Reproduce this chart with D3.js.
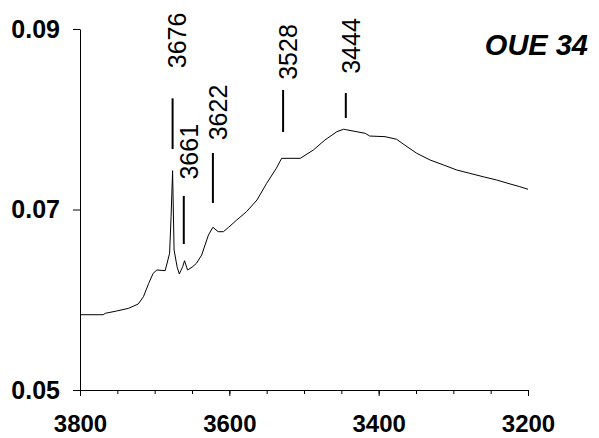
<!DOCTYPE html>
<html>
<head>
<meta charset="utf-8">
<script src="https://cdn.jsdelivr.net/npm/d3@7"></script>
<style>
  html, body { margin: 0; padding: 0; background: #fff; }
  svg { display: block; }
  .axis text { font-family: "Liberation Sans", Arial, sans-serif; font-weight: bold; font-size: 25px; fill: #000; }
  .axis.xlab text { font-size: 24px; }
  .axis path, .axis line { stroke: #000; stroke-width: 1; }
</style>
</head>
<body>
<svg id="chart" width="599" height="438"></svg>
<script>
// IR spectrum, OUE 34: wavenumber (cm-1) vs absorbance
const wavenumber = [
  3800, 3769, 3766, 3751, 3735, 3722, 3715, 3708, 3702, 3697,
  3686, 3684, 3680, 3678, 3676, 3674, 3670, 3667, 3665, 3662.5,
  3660, 3656, 3650, 3644, 3637, 3632.5, 3628, 3622, 3615, 3608,
  3601, 3590, 3577, 3563, 3550, 3537, 3530, 3505, 3487.5, 3472,
  3456, 3447, 3444, 3418, 3412, 3391.5, 3376, 3362, 3349, 3331,
  3313, 3295.5, 3278, 3260, 3242, 3224, 3211, 3200
];
const absorbance = [
  0.05834, 0.05834, 0.05850, 0.05875, 0.05905, 0.05953, 0.06034, 0.06182, 0.06293, 0.06330,
  0.06322, 0.06385, 0.06515, 0.06920, 0.07430, 0.06551, 0.06366, 0.06285, 0.06322, 0.06366,
  0.06433, 0.06330, 0.06360, 0.06404, 0.06496, 0.06607, 0.06717, 0.06803, 0.06754, 0.06754,
  0.06803, 0.06884, 0.06976, 0.07105, 0.07290, 0.07457, 0.07567, 0.07567, 0.07659, 0.07770,
  0.07862, 0.07889, 0.07885, 0.07844, 0.07814, 0.07807, 0.07778, 0.07696, 0.07623, 0.07548,
  0.07493, 0.07438, 0.07401, 0.07363, 0.07327, 0.07283, 0.07253, 0.07224
];

// Band assignments: marker span and label centre, in absorbance units
const bandPositions = [3676, 3661, 3622, 3528, 3444];
const bandLabels    = ["3676", "3661", "3622", "3528", "3444"];
const markerTop     = [0.08232, 0.07150, 0.07626, 0.08324, 0.08291];
const markerBottom  = [0.07670, 0.06618, 0.07072, 0.07859, 0.08014];
const labelCenter   = [0.08873, 0.07640, 0.08075, 0.08745, 0.08812];

const xMajorTicks = [3800, 3600, 3400, 3200];
const xMinorTicks = d3.range(3800, 3199, -50);
const yTicks = [0.05, 0.07, 0.09];
const sampleName = "OUE 34";

const svg = d3.select("#chart");
const margin = { left: 80, right: 71, top: 29, bottom: 48 };
const W = 599, H = 438;

const x = d3.scaleLinear().domain([3800, 3200]).range([margin.left, W - margin.right]);
const y = d3.scaleLinear().domain([0.05, 0.09]).range([H - margin.bottom, margin.top]);

// x axis: minor ticks every 50, labelled major ticks every 200
svg.append("g")
  .attr("class", "axis")
  .attr("transform", `translate(0,${y(0.05)})`)
  .call(d3.axisBottom(x).tickValues(xMinorTicks).tickSize(4).tickSizeOuter(0).tickFormat(""));
svg.append("g")
  .attr("class", "axis xlab")
  .attr("transform", `translate(0,${y(0.05)})`)
  .call(d3.axisBottom(x).tickValues(xMajorTicks).tickSize(6).tickSizeOuter(0).tickPadding(19).tickFormat(d3.format("d")))
  .call(g => g.select(".domain").remove());

// y axis
svg.append("g")
  .attr("class", "axis")
  .attr("transform", `translate(${x(3800)},0)`)
  .call(d3.axisLeft(y).tickValues(yTicks).tickSize(7).tickSizeOuter(0).tickPadding(13).tickFormat(d3.format(".2f")));

// spectrum
const pts = wavenumber.map((w, i) => [w, absorbance[i]]);
svg.append("path")
  .datum(pts)
  .attr("fill", "none")
  .attr("stroke", "#000")
  .attr("stroke-width", 1)
  .attr("stroke-linejoin", "round")
  .attr("d", d3.line().x(d => x(d[0])).y(d => y(d[1])));

// band markers and rotated labels
const bands = svg.append("g");
bandPositions.forEach((w, i) => {
  bands.append("line")
    .attr("x1", x(w)).attr("x2", x(w))
    .attr("y1", y(markerTop[i])).attr("y2", y(markerBottom[i]))
    .attr("stroke", "#000").attr("stroke-width", 2);
  bands.append("text")
    .attr("transform", `translate(${x(w) + 5},${y(labelCenter[i])}) rotate(-90)`)
    .attr("text-anchor", "middle")
    .attr("dy", "0.35em")
    .style("font-family", "'Liberation Sans', Arial, sans-serif")
    .style("font-size", "25px")
    .text(bandLabels[i]);
});

// sample name
svg.append("text")
  .attr("x", 588).attr("y", 55)
  .attr("text-anchor", "end")
  .style("font-family", "'Liberation Sans', Arial, sans-serif")
  .style("font-size", "29px")
  .style("font-weight", "bold")
  .style("font-style", "italic")
  .text(sampleName);
</script>
</body>
</html>
